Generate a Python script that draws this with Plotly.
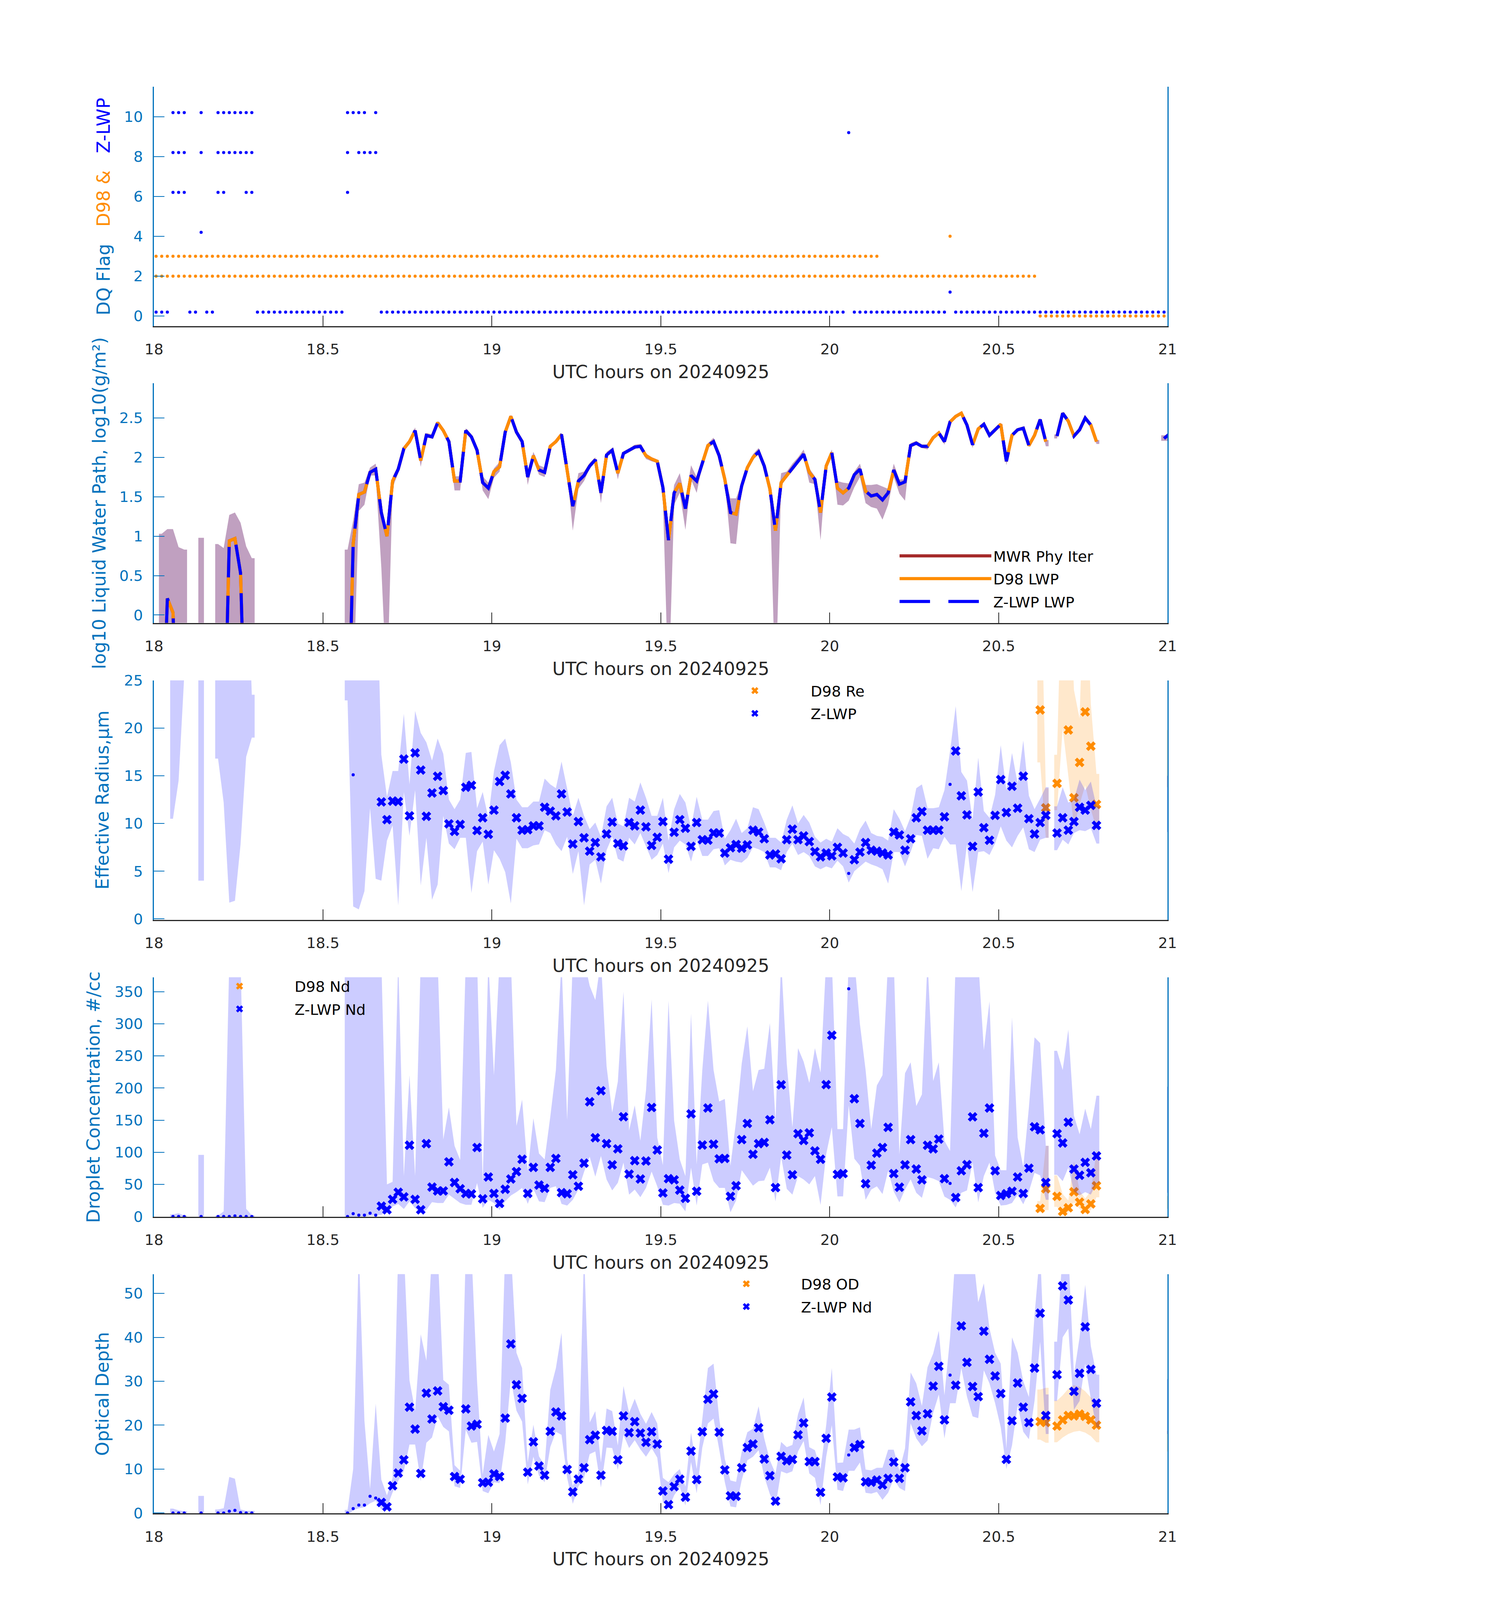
import plotly.graph_objects as go

N = 181            # one-minute samples from 18:00 to 21:00 UTC
OFFSET = 0.37      # sample time offset within each minute (minutes)
t = [18 + (i + OFFSET) / 60 for i in range(N)]


def series(segs):
    a = [None] * N
    for s, vals in segs:
        for k, v in enumerate(vals):
            a[s + k] = v
    return a

# ---------------- DQ flags (runs of minute indices) ----------------
Z_FLAG_RUNS = {
    0: [(0, 2), (6, 7), (9, 10), (18, 33), (40, 122), (124, 140), (142, 180)],
    10: [(3, 5), (8, 8), (11, 17), (34, 37), (39, 39)],
    8: [(3, 5), (8, 8), (11, 17), (34, 34), (36, 39)],
    6: [(3, 5), (11, 12), (16, 17), (34, 34)],
    4: [(8, 8)],
    9: [(123, 123)],
    1: [(141, 141)],
}
D98_FLAG_RUNS = {
    3: [(0, 128)],
    2: [(0, 156)],
    4: [(141, 141)],
    0: [(157, 180)],
}
Z_FLAG_SHIFT = 0.2

# ---------------- log10 LWP ----------------
lwp = series([
    (1, [-2, 0.21, 0.03, -2]),
    (12, [-2, 0.94, 0.97, 0.53, -2]),
    (34, [-2, 0.9, 1.53, 1.56, 1.81, 1.85]),
    (40, [1.30, 1.00, 1.70, 1.85, 2.11, 2.20, 2.34, 1.96, 2.28, 2.26]),
    (50, [2.44, 2.34, 2.20, 1.70, 1.70, 2.34, 2.26, 2.09, 1.68, 1.61]),
    (60, [1.82, 1.88, 2.32, 2.52, 2.32, 2.20, 1.75, 2.02, 1.84, 1.81]),
    (70, [2.14, 2.20, 2.29, 1.83, 1.38, 1.70, 1.77, 1.89, 1.97, 1.55]),
    (80, [2.03, 2.09, 1.80, 2.05, 2.09, 2.13, 2.14, 2.02, 1.98, 1.95]),
    (90, [1.62, 0.95, 1.55, 1.67, 1.35, 1.77, 1.70, 1.94, 2.15, 2.20]),
    (100, [2.02, 1.72, 1.30, 1.28, 1.64, 1.87, 2.00, 2.07, 1.89, 1.60]),
    (110, [1.07, 1.68, 1.77, 1.87, 1.96, 2.04, 1.81, 1.72, 1.30, 1.89]),
    (120, [2.06, 1.61, 1.55, 1.61, 1.78, 1.85, 1.57, 1.51, 1.53, 1.46]),
    (130, [1.55, 1.84, 1.66, 1.69, 2.15, 2.18, 2.14, 2.14, 2.25, 2.31]),
    (140, [2.20, 2.45, 2.52, 2.56, 2.41, 2.16, 2.36, 2.42, 2.28, 2.35]),
    (150, [2.42, 1.95, 2.28, 2.35, 2.37, 2.15, 2.28, 2.48, 2.20]),
    (160, [2.27, 2.56, 2.46, 2.27, 2.35, 2.50, 2.41, 2.20]),
    (179, [2.24, 2.30]),
])
lwp_lo = series([
    (1, [-1, -1, -1, -1, -1]), (8, [-1]), (11, [-1, -1, -1, -1, -1, -1, -1]),
    (34, [-1, -1, 1.32, 1.40, 1.77, 1.77]),
    (40, [0.6, -1, 1.62, 1.80, 2.08, 2.17, 2.30, 1.88, 2.25, 2.24]),
    (50, [2.42, 2.32, 2.18, 1.58, 1.58, 2.32, 2.24, 2.07, 1.58, 1.47]),
    (60, [1.74, 1.82, 2.30, 2.50, 2.30, 2.18, 1.65, 1.98, 1.78, 1.75]),
    (70, [2.12, 2.18, 2.27, 1.80, 1.07, 1.60, 1.70, 1.86, 1.94, 1.42]),
    (80, [2.01, 2.07, 1.72, 2.03, 2.07, 2.11, 2.12, 1.98, 1.95, 1.93]),
    (90, [1.50, -1, 1.40, 1.55, 1.08, 1.72, 1.55, 1.90, 2.12, 2.17]),
    (100, [1.98, 1.68, 0.91, 0.90, 1.60, 1.84, 1.97, 2.04, 1.86, 1.55]),
    (110, [-1, 1.64, 1.74, 1.83, 1.92, 2.00, 1.68, 1.66, 0.95, 1.86]),
    (120, [2.02, 1.40, 1.39, 1.45, 1.62, 1.75, 1.42, 1.37, 1.35, 1.21]),
    (130, [1.40, 1.75, 1.54, 1.45, 2.12, 2.16, 2.12, 2.10, 2.22, 2.29]),
    (140, [2.16, 2.43, 2.50, 2.54, 2.39, 2.12, 2.34, 2.40, 2.25, 2.32]),
    (150, [2.40, 1.90, 2.26, 2.33, 2.35, 2.13, 2.26, 2.46, 2.14]),
    (160, [2.24, 2.54, 2.44, 2.25, 2.33, 2.48, 2.39, 2.17]),
    (179, [2.21, 2.21]),
])
lwp_hi = series([
    (1, [1.03, 1.09, 1.09, 0.86, 0.83]), (8, [0.98]),
    (11, [0.90, 0.85, 1.27, 1.30, 1.17, 0.87, 0.72]),
    (34, [0.83, 1.20, 1.66, 1.68, 1.87, 1.92]),
    (40, [1.40, 1.05, 1.75, 1.90, 2.14, 2.23, 2.38, 2.00, 2.31, 2.29]),
    (50, [2.46, 2.36, 2.22, 1.76, 1.76, 2.37, 2.29, 2.11, 1.76, 1.68]),
    (60, [1.86, 1.94, 2.34, 2.54, 2.34, 2.22, 1.80, 2.07, 1.90, 1.87]),
    (70, [2.16, 2.22, 2.31, 1.86, 1.40, 1.80, 1.82, 1.93, 2.00, 1.60]),
    (80, [2.07, 2.12, 1.83, 2.07, 2.11, 2.16, 2.17, 2.05, 2.00, 1.97]),
    (90, [1.68, 1.10, 1.65, 1.80, 1.45, 1.90, 1.75, 1.98, 2.18, 2.25]),
    (100, [2.05, 1.76, 1.48, 1.48, 1.68, 1.90, 2.04, 2.12, 1.92, 1.64]),
    (110, [1.10, 1.80, 1.82, 1.92, 2.00, 2.10, 1.86, 1.76, 1.40, 1.93]),
    (120, [2.10, 1.70, 1.68, 1.67, 1.82, 1.92, 1.65, 1.65, 1.66, 1.63]),
    (130, [1.60, 1.92, 1.72, 1.72, 2.18, 2.21, 2.16, 2.16, 2.27, 2.33]),
    (140, [2.22, 2.47, 2.54, 2.58, 2.43, 2.18, 2.38, 2.44, 2.30, 2.37]),
    (150, [2.44, 1.98, 2.30, 2.37, 2.39, 2.17, 2.30, 2.50, 2.22]),
    (160, [2.29, 2.58, 2.48, 2.29, 2.37, 2.52, 2.43, 2.22]),
    (179, [2.28, 2.28]),
])

# ---------------- Effective radius (um) ----------------
re_z = series([
    (35, [15.1]),
    (40, [12.26, 10.4, 12.35, 12.3, 16.75, 10.8, 17.4, 15.6, 10.75, 13.2]),
    (50, [14.95, 13.45, 9.96, 9.17, 9.9, 13.8, 14.0, 9.26, 10.6, 8.87]),
    (60, [11.4, 14.4, 15.05, 13.1, 10.6, 9.3, 9.35, 9.75, 9.75, 11.7]),
    (70, [11.3, 10.8, 13.1, 11.2, 7.85, 10.2, 8.5, 7.1, 8.0, 6.5]),
    (80, [8.9, 10.15, 7.9, 7.65, 10.1, 9.75, 11.4, 9.65, 7.7, 8.55]),
    (90, [10.2, 6.26, 9.08, 10.4, 9.5, 7.6, 10.1, 8.3, 8.25, 9.0]),
    (100, [9.0, 6.9, 7.45, 7.8, 7.4, 7.75, 9.3, 9.1, 8.4, 6.7]),
    (110, [6.8, 6.3, 8.3, 9.4, 8.3, 8.7, 8.1, 7.05, 6.5, 6.9]),
    (120, [6.6, 7.5, 6.9, 4.76, 6.2, 7.0, 8.0, 7.2, 7.1, 6.9]),
    (130, [6.7, 9.1, 8.8, 7.2, 8.4, 10.6, 11.25, 9.3, 9.3, 9.3]),
    (140, [10.7, 14.1, 17.6, 12.9, 10.9, 7.6, 13.3, 9.56, 8.24, 10.85]),
    (150, [14.6, 11.15, 13.9, 11.6, 14.96, 10.5, 8.9, 10.1, 10.85]),
    (160, [9.0, 10.6, 9.3, 10.2, 11.7, 11.4, 11.9, 9.8]),
    (180, [12.0]),
])
re_z_lo = series([
    (3, [10.5, 14.5, 25.5]), (8, [4.0]), (11, [16.8, 12.2, 1.7, 1.9, 7.8, 17.0, 19.0]),
    (34, [22.9, 1.3, 1.0, 2.9, 11.6, 4.2]),
    (40, [4.0, 8.2, 9.8, 1.4, 13.3, 8.7, 13.5, 3.5, 8.5, 2.0]),
    (50, [3.6, 10.8, 7.9, 7.3, 8.5, 8.5, 2.7, 7.1, 8.1, 3.6]),
    (60, [7.2, 6.3, 4.9, 1.6, 8.4, 7.4, 7.4, 7.7, 7.8, 9.3]),
    (70, [9.0, 7.8, 7.1, 8.6, 4.7, 7.1, 1.4, 5.7, 6.2, 3.7]),
    (80, [7.2, 8.6, 6.3, 6.0, 8.5, 7.8, 9.0, 7.6, 6.2, 6.7]),
    (90, [7.9, 4.8, 7.5, 8.2, 7.8, 6.0, 8.3, 6.6, 6.6, 7.3]),
    (100, [7.4, 5.6, 6.2, 6.0, 5.9, 6.4, 7.5, 7.3, 7.0, 5.4]),
    (110, [5.4, 5.1, 7.0, 7.9, 6.7, 7.0, 6.6, 5.5, 5.2, 5.5]),
    (120, [5.3, 6.1, 5.5, 3.8, 5.0, 5.5, 6.0, 5.7, 5.5, 5.2]),
    (130, [3.7, 7.0, 7.0, 5.5, 7.0, 8.8, 8.7, 6.3, 7.4, 7.3]),
    (140, [8.6, 7.8, 7.8, 2.9, 7.8, 2.8, 7.0, 7.1, 6.7, 7.9]),
    (150, [9.7, 8.2, 7.5, 8.7, 9.6, 7.3, 7.0, 8.3, 8.5]),
    (160, [7.2, 8.3, 7.8, 9.0, 9.3, 9.2, 9.5, 7.9]),
    (180, [9.1]),
])
re_z_hi = series([
    (3, [40, 40, 40]), (8, [40]), (11, [40, 40, 40, 40, 40, 40, 23.5]),
    (34, [40, 40, 40, 40, 40, 40]),
    (40, [17.2, 12.8, 15.5, 15.5, 21.5, 14.1, 21.8, 19.5, 18.5, 16.6]),
    (50, [18.9, 17.3, 12.5, 11.5, 12.5, 17.4, 17.5, 11.6, 13.3, 10.6]),
    (60, [15.5, 18.2, 18.9, 16.4, 12.5, 11.7, 11.7, 12.3, 12.3, 14.7]),
    (70, [14.1, 13.7, 16.5, 13.6, 10.8, 12.7, 10.8, 9.4, 10.1, 8.6]),
    (80, [11.8, 12.7, 10.0, 9.7, 12.7, 12.3, 14.3, 12.7, 10.8, 10.8]),
    (90, [12.7, 8.2, 11.5, 13.1, 12.2, 9.6, 12.8, 10.4, 10.4, 11.3]),
    (100, [11.4, 8.4, 9.3, 10.5, 9.0, 9.5, 11.7, 11.5, 10.1, 8.5]),
    (110, [8.5, 8.0, 10.4, 11.9, 10.0, 10.9, 10.1, 8.6, 8.0, 8.4]),
    (120, [8.1, 9.5, 8.9, 8.6, 7.9, 9.4, 10.3, 9.0, 8.7, 8.6]),
    (130, [8.2, 11.5, 10.5, 9.2, 10.7, 13.7, 14.1, 11.6, 11.6, 11.7]),
    (140, [13.5, 17.6, 22.3, 15.4, 14.5, 10.4, 16.9, 11.3, 10.6, 13.0]),
    (150, [18.2, 13.5, 17.4, 14.2, 18.7, 12.9, 11.5, 12.6, 13.8]),
    (160, [11.8, 13.8, 12.2, 12.5, 14.6, 13.5, 14.4, 11.8]),
    (180, [15.0]),
])
re_d98 = series([(157, [21.9, 11.64, None, 14.2, None, 19.8, 12.7, 16.4, 21.7, 18.1, 12.0]), (180, [16.6])])
re_d98_lo = series([(157, [16.4, 8.5]), (160, [11.4, 20.0, 15.0, 9.6, 12.0, 14.0, 11.5, 9.4]), (180, [13.8])])
re_d98_hi = series([(157, [40, 13.7]), (160, [17.2, 40, 40, 24.0, 21.0, 40, 22.5, 15.2]), (180, [19.8])])

# ---------------- Droplet concentration (#/cc) ----------------
nd_z = series([
    (3, [0, 0, 0]), (8, [0]), (11, [0, 0, 0, 1.0, 0, 0, 0]),
    (34, [0, 4.5, 2.1, 2.1, 5.2, 2.1]),
    (40, [16.2, 10.5, 26.7, 37.7, 30.6, 111.0, 26.7, 10.5, 113.4, 45.8]),
    (50, [39.8, 39.8, 85.1, 52.9, 43.2, 35.9, 35.1, 107.4, 27.5, 61.5]),
    (60, [35.9, 20.4, 42.4, 58.4, 69.9, 89.1, 35.9, 76.5, 49.0, 44.0]),
    (70, [76.5, 90.4, 37.2, 35.4, 65.0, 47.1, 83.0, 178.6, 122.6, 195.7]),
    (80, [113.4, 80.4, 105.3, 155.3, 66.0, 87.0, 58.4, 86.4, 169.7, 103.5]),
    (90, [36.7, 58.9, 57.1, 41.1, 28.3, 159.8, 39.3, 111.3, 168.9, 112.6]),
    (100, [89.8, 90.4, 31.4, 47.9, 119.7, 144.8, 96.9, 113.4, 115.2, 150.6]),
    (110, [45.0, 205.1, 95.6, 65.0, 128.9, 118.4, 130.2, 102.1, 89.1, 205.3]),
    (120, [282.1, 65.5, 66.8, 354.4, 183.3, 144.8, 51.1, 79.9, 98.7, 107.4]),
    (130, [138.8, 66.8, 45.6, 80.4, 119.7, 73.9, 57.1, 110.8, 105.3, 120.5]),
    (140, [58.9, 51.6, 29.6, 71.2, 80.7, 155.1, 45.0, 129.6, 168.9, 71.2]),
    (150, [32.7, 35.4, 39.3, 61.5, 35.9, 75.2, 139.6, 134.9, 52.9]),
    (160, [128.9, 114.5, 146.7, 73.9, 64.2, 84.3, 68.1, 94.3]),
    (180, [63.6]),
])
nd_z_lo = series([
    (3, [-1, -1, -1]), (8, [-1]), (11, [-1, -1, -1, -1, -1, -1, -1]),
    (34, [-1, -1, 0, 0, 1, 2]),
    (40, [2.6, 7.9, 15.7, 19.6, 11.8, 23.6, 13.1, 5.2, 10.5, 22.3]),
    (50, [21, 21, 34, 27.5, 21, 18.3, 18.3, 52, 13.6, 26]),
    (60, [21, 10, 23.6, 32.7, 38, 44.5, 19.6, 43.2, 23.6, 22.3]),
    (70, [44.5, 47.1, 19.6, 17, 26, 41.9, 69.4, 93, 62, 94.3]),
    (80, [57.6, 40.6, 52.4, 83.8, 34, 41.9, 30.1, 44.5, 70, 47]),
    (90, [18.3, 17, 21, 20, 8, 76, 17, 81, 84, 55]),
    (100, [44.5, 44.5, 6.5, 25, 72, 60, 48, 55, 56, 76]),
    (110, [23.6, 93, 43, 34, 63, 57.6, 50, 63, 18, 97]),
    (120, [139, 31.4, 31.4, 173, 90, 79, 26, 42, 47, 35]),
    (130, [71, 39, 22, 42, 58, 37, 29, 61.5, 59, 55]),
    (140, [31, 26, 14, 37, 40.6, 84, 22, 63, 84, 37]),
    (150, [17, 18, 21, 34, 19, 39, 68, 64, 26]),
    (160, [65, 55, 76, 39, 33, 38, 34, 52]),
    (180, [37]),
])
nd_z_hi = series([
    (3, [3.4, 5.2, 1.5]), (8, [96]), (11, [1.5, 8, 400, 400, 400, 12, 2]),
    (34, [400, 400, 400, 400, 400, 400]),
    (40, [400, 50, 54, 400, 63, 220, 63, 400, 400, 400]),
    (50, [400, 120, 170, 110, 88, 400, 400, 400, 52, 400]),
    (60, [220, 400, 400, 400, 141, 182, 71, 153, 98, 89]),
    (70, [155, 228, 400, 150, 400, 400, 400, 359, 337, 400]),
    (80, [234, 162, 210, 350, 134, 173, 118, 196, 338, 123]),
    (90, [80, 336, 149, 89, 63, 316, 81, 228, 336, 228]),
    (100, [179, 183, 79, 149, 238, 296, 195, 228, 230, 301]),
    (110, [149, 400, 238, 139, 262, 241, 208, 262, 224, 400]),
    (120, [400, 136, 136, 400, 400, 299, 228, 136, 204, 220]),
    (130, [400, 400, 97, 223, 240, 172, 190, 400, 211, 240]),
    (140, [118, 102, 400, 400, 400, 400, 400, 259, 335, 95]),
    (150, [72, 72, 310, 123, 77, 170, 279, 270, 110]),
    (160, [258, 228, 291, 157, 128, 168, 136, 188]),
    (180, [202]),
])
nd_d98 = series([(157, [12.6, 43.2, None, 31.4, 7.9, 13.6, 38.5, 22.3, 11.0, 19.6, 47.9]), (180, [20.2])])
nd_d98_lo = series([(157, [6.5, 10]), (160, [15, 3, 6, 22, 12, 5, 10, 30]), (180, [12])])
nd_d98_hi = series([(157, [24, 110]), (160, [64, 35, 25, 86, 40, 28, 40, 101]), (180, [32])])

# ---------------- Optical depth ----------------
od_z = series([
    (3, [0, 0, 0]), (8, [0]), (11, [0, 0, 0.4, 0.6, 0.1, 0, 0]),
    (34, [0, 1.0, 1.8, 1.8, 3.8, 3.4]),
    (40, [2.4, 1.4, 6.2, 9.1, 12.1, 24.1, 19.1, 9.0, 27.3, 21.4]),
    (50, [27.8, 24.2, 23.4, 8.3, 7.7, 23.7, 19.8, 20.2, 6.9, 7.0]),
    (60, [8.9, 8.3, 21.6, 38.5, 29.2, 26.1, 9.3, 16.2, 10.7, 8.6]),
    (70, [18.6, 23.0, 22.1, 9.9, 4.8, 7.7, 10.3, 16.7, 17.7, 8.6]),
    (80, [18.8, 18.6, 12.1, 22.1, 18.3, 20.8, 18.2, 16.1, 18.5, 15.7]),
    (90, [5.0, 1.9, 6.0, 7.7, 3.6, 14.1, 7.6, 18.5, 25.9, 27.1]),
    (100, [18.4, 9.8, 3.9, 3.8, 10.3, 14.9, 15.7, 19.4, 12.3, 8.5]),
    (110, [2.7, 12.9, 11.9, 12.2, 17.8, 20.5, 11.7, 11.7, 4.7, 17.0]),
    (120, [26.4, 8.2, 8.0, 13.2, 14.9, 15.6, 7.1, 7.0, 7.5, 6.4]),
    (130, [7.9, 11.6, 7.9, 10.3, 25.3, 22.2, 18.7, 22.6, 28.9, 33.4]),
    (140, [21.2, 31.4, 29.1, 42.6, 34.3, 28.8, 26.5, 41.4, 35.0, 31.2]),
    (150, [27.2, 12.2, 21.0, 29.6, 24.1, 20.6, 33.0, 45.5, 22.2]),
    (160, [31.5, 51.7, 48.5, 27.7, 31.8, 42.4, 32.7, 25.0]),
    (180, [23.2]),
])
od_z_lo = series([
    (3, [-1, -1, -1]), (8, [-1]), (11, [-1, -1, -1, -1, -1, -1, -1]),
    (34, [-0.5, 0.6, 1.1, 1.3, 2.2, 2.8]),
    (40, [0.8, 1.3, 4.7, 7.3, 9.6, 15.6, 15.6, 7.2, 16.0, 17.2]),
    (50, [22.0, 19.6, 18.6, 6.1, 5.7, 19.0, 16.0, 16.2, 5.0, 4.5]),
    (60, [7.0, 6.8, 16.0, 30.5, 23.3, 20.8, 6.5, 12.8, 8.5, 7.0]),
    (70, [15.0, 18.5, 17.8, 8.0, 2.1, 6.0, 8.0, 13.4, 14.0, 5.8]),
    (80, [14.9, 14.8, 9.8, 17.8, 14.8, 16.6, 14.5, 12.8, 14.8, 12.6]),
    (90, [2.5, 1.0, 4.0, 6.0, 1.7, 11.6, 4.5, 14.9, 20.4, 21.5]),
    (100, [14.5, 7.0, 1.5, 1.3, 7.5, 12.0, 12.8, 14.3, 8.3, 4.3]),
    (110, [1.5, 9.5, 9.0, 9.5, 14.0, 16.4, 9.0, 8.0, 1.8, 12.8]),
    (120, [20.0, 5.3, 5.0, 9.6, 9.6, 11.5, 4.6, 4.4, 4.8, 3.0]),
    (130, [4.6, 7.8, 5.7, 5.0, 20.4, 17.0, 15.2, 16.5, 22.8, 27.0]),
    (140, [17.0, 25.0, 25.0, 33.0, 26.5, 22.0, 21.6, 32.5, 29.5, 25.0]),
    (150, [19.5, 10.0, 15.4, 24.5, 18.5, 16.8, 25.5, 39.0, 18.0]),
    (160, [25.5, 40.0, 42.0, 23.5, 25.5, 34.0, 26.0, 19.5]),
    (180, [18.0]),
])
od_z_hi = series([
    (3, [1.0, 0.6, 0.4]), (8, [3.9]), (11, [0.8, 1.1, 8.2, 7.8, 0.8, 0.5, 0.5]),
    (34, [0.7, 10, 60, 21, 5.5, 24.9]),
    (40, [7.6, 4.0, 8.0, 60, 60, 30.2, 23.3, 40.7, 34.7, 60]),
    (50, [60, 30.3, 29.2, 10.9, 9.6, 60, 60, 30, 8.8, 17.8]),
    (60, [14.0, 18.0, 60, 60, 36.5, 33.0, 11.5, 20.1, 12.9, 10.9]),
    (70, [28.0, 33.0, 41.0, 12.2, 6.2, 9.3, 60, 20.6, 23.2, 11.5]),
    (80, [23.8, 23.2, 15.4, 28.9, 22.8, 26.0, 22.6, 20.3, 23.0, 20.4]),
    (90, [8.0, 7.0, 8.8, 10.0, 6.0, 18.3, 10.0, 21.4, 33.0, 34.0]),
    (100, [21.6, 12.3, 7.4, 7.1, 13.9, 18.4, 19.2, 24.3, 17.0, 12.0]),
    (110, [9.0, 16.2, 15.0, 15.5, 22.5, 26.3, 15.0, 14.3, 10.0, 20.0]),
    (120, [33.0, 11.4, 11.5, 19.0, 19.0, 19.5, 9.9, 9.7, 10.3, 10.3]),
    (130, [14.4, 14.4, 9.7, 14.7, 32.0, 29.5, 24.4, 33.2, 36.3, 41.5]),
    (140, [26.8, 40.0, 60, 60, 60, 60, 48.0, 52.3, 42.0, 36.5]),
    (150, [34.0, 14.7, 40.0, 36.5, 30.0, 26.4, 45.0, 60, 27.0]),
    (160, [39.0, 60, 60, 31.5, 40.0, 52.0, 38.0, 31.5]),
    (180, [30.5]),
])
od_d98 = series([(157, [20.8, 20.6, None, 19.8, 21.2, 22.2, 22.1, 22.5, 22.0, 21.2, 20.0]), (180, [16.5])])
od_d98_lo = series([(157, [16.7, 16.0]), (160, [16.1, 17.2, 18.0, 18.5, 18.7, 18.3, 17.5, 16.1]), (180, [14.0])])
od_d98_hi = series([(157, [28.1, 28.5]), (160, [25.6, 26.8, 28.3, 29.1, 28.7, 27.7, 26.3, 25.5]), (180, [18.7])])

X_TICKS = [18, 18.5, 19, 19.5, 20, 20.5, 21]
X_TICKTEXT = ["18", "18.5", "19", "19.5", "20", "20.5", "21"]
X_TITLE = "UTC hours on 20240925"

# ---------------- styling ----------------
W, H = 3825, 6000
BLUE = "#0000FF"
ORANGE = "#FF8C00"
AXBLUE = "#0072BD"
DARK = "#262626"
FONT = "DejaVu Sans"
X_DOM = [375 / W, 3003 / W]
PANEL_PX = [(296, 1203), (1420, 2328), (2546, 3453), (3671, 4579), (4796, 5703)]
Y_RANGES = [[-0.5, 11.5], [-0.1, 2.94], [-0.09, 25], [-0.5, 372.4], [-0.1, 54.4]]
Y_TICKS = [[0, 2, 4, 6, 8, 10], [0, 0.5, 1, 1.5, 2, 2.5], [0, 5, 10, 15, 20, 25],
           [0, 50, 100, 150, 200, 250, 300, 350], [0, 10, 20, 30, 40, 50]]
Y_TITLE_X = [244, 233, 241, 218, 241]

ok_z = set()
for a, b in Z_FLAG_RUNS[0]:
    ok_z.update(range(a, b + 1))


def band_xy(lo, hi, pad=0.5 / 60):
    xs, ys = [], []
    i = 0
    while i < N:
        if lo[i] is None or hi[i] is None:
            i += 1
            continue
        j = i
        while j + 1 < N and lo[j + 1] is not None and hi[j + 1] is not None:
            j += 1
        idx = list(range(i, j + 1))
        px = [t[i] - pad] + [t[k] for k in idx] + [t[j] + pad]
        py = [hi[i]] + [hi[k] for k in idx] + [hi[j]]
        px += [t[j] + pad] + [t[k] for k in reversed(idx)] + [t[i] - pad]
        py += [lo[j]] + [lo[k] for k in reversed(idx)] + [lo[i]]
        xs += px + [px[0], None]
        ys += py + [py[0], None]
        i = j + 1
    return xs, ys


fig = go.Figure()


def ax(k):
    return ("x" if k == 1 else f"x{k}"), ("y" if k == 1 else f"y{k}")

# Panel 1: flags
xa, ya = ax(1)
for lvl, runs in D98_FLAG_RUNS.items():
    idx = [i for a, b in runs for i in range(a, b + 1)]
    fig.add_trace(go.Scatter(x=[t[i] for i in idx], y=[lvl] * len(idx), mode="markers",
                             marker=dict(color=ORANGE, size=8), cliponaxis=False,
                             showlegend=False, xaxis=xa, yaxis=ya, hoverinfo="skip"))
for lvl, runs in Z_FLAG_RUNS.items():
    idx = [i for a, b in runs for i in range(a, b + 1)]
    fig.add_trace(go.Scatter(x=[t[i] for i in idx], y=[lvl + Z_FLAG_SHIFT] * len(idx), mode="markers",
                             marker=dict(color=BLUE, size=8), cliponaxis=False,
                             showlegend=False, xaxis=xa, yaxis=ya, hoverinfo="skip"))

# Panel 2: LWP
xa, ya = ax(2)
bx, by = band_xy(lwp_lo, lwp_hi)
fig.add_trace(go.Scatter(x=bx, y=by, fill="toself", fillcolor="rgb(192,160,192)", mode="lines",
                         line=dict(width=0), showlegend=False, xaxis=xa, yaxis=ya, hoverinfo="skip"))
fig.add_trace(go.Scatter(x=t, y=lwp, mode="lines", line=dict(color="#A52A2A", width=8),
                         name="MWR Phy Iter", legend="legend", legendgroup="g1", xaxis=xa, yaxis=ya))
fig.add_trace(go.Scatter(x=t, y=lwp, mode="lines", line=dict(color=ORANGE, width=8),
                         name="D98 LWP", legend="legend", legendgroup="g2", xaxis=xa, yaxis=ya))
fig.add_trace(go.Scatter(x=t, y=lwp, mode="lines", line=dict(color=BLUE, width=8, dash="78px,47px"),
                         name="Z-LWP LWP", legend="legend", legendgroup="g3", xaxis=xa, yaxis=ya))


def marker_panel(k, d98, d98_lo, d98_hi, z, z_lo, z_hi, name_d98, name_z, leg):
    xa, ya = ax(k)
    bx, by = band_xy(d98_lo, d98_hi)
    fig.add_trace(go.Scatter(x=bx, y=by, fill="toself", fillcolor="rgba(255,140,0,0.2)", mode="lines",
                             line=dict(width=0), showlegend=False, xaxis=xa, yaxis=ya, hoverinfo="skip"))
    idx = [i for i in range(N) if d98[i] is not None]
    fig.add_trace(go.Scatter(x=[t[i] for i in idx], y=[d98[i] for i in idx], mode="markers",
                             marker=dict(symbol="x", color=ORANGE, size=22), cliponaxis=False,
                             name=name_d98, legend=leg, legendgroup=f"{leg}a", xaxis=xa, yaxis=ya))
    bx, by = band_xy(z_lo, z_hi)
    fig.add_trace(go.Scatter(x=bx, y=by, fill="toself", fillcolor="rgba(0,0,255,0.2)", mode="lines",
                             line=dict(width=0), showlegend=False, xaxis=xa, yaxis=ya, hoverinfo="skip"))
    idx_dot = [i for i in range(N) if z[i] is not None and i not in ok_z]
    fig.add_trace(go.Scatter(x=[t[i] for i in idx_dot], y=[z[i] for i in idx_dot], mode="markers",
                             marker=dict(color=BLUE, size=8), cliponaxis=False,
                             showlegend=False, xaxis=xa, yaxis=ya))
    idx_x = [i for i in range(N) if z[i] is not None and i in ok_z]
    fig.add_trace(go.Scatter(x=[t[i] for i in idx_x], y=[z[i] for i in idx_x], mode="markers",
                             marker=dict(symbol="x", color=BLUE, size=22), cliponaxis=False,
                             name=name_z, legend=leg, legendgroup=f"{leg}b", xaxis=xa, yaxis=ya))


marker_panel(3, re_d98, re_d98_lo, re_d98_hi, re_z, re_z_lo, re_z_hi, "D98 Re", "Z-LWP", "legend2")
marker_panel(4, nd_d98, nd_d98_lo, nd_d98_hi, nd_z, nd_z_lo, nd_z_hi, "D98 Nd", "Z-LWP Nd", "legend3")
marker_panel(5, od_d98, od_d98_lo, od_d98_hi, od_z, od_z_lo, od_z_hi, "D98 OD", "Z-LWP Nd", "legend4")

layout = dict(width=W, height=H, margin=dict(l=0, r=0, t=0, b=0),
              paper_bgcolor="white", plot_bgcolor="white",
              font=dict(family=FONT, size=38, color=DARK))
annotations = []
for k in range(1, 6):
    top, bot = PANEL_PX[k - 1]
    dom = [1 - bot / H, 1 - top / H]
    xs = "xaxis" if k == 1 else f"xaxis{k}"
    ys = "yaxis" if k == 1 else f"yaxis{k}"
    xa, ya = ax(k)
    layout[xs] = dict(domain=X_DOM, range=[18, 21], anchor=ya, tickvals=X_TICKS, ticktext=X_TICKTEXT,
                      ticks="inside", ticklen=27, tickwidth=2, tickcolor=DARK, showline=True,
                      linecolor=DARK, linewidth=2.5, showgrid=False, zeroline=False,
                      tickfont=dict(size=38, color=DARK, family=FONT), ticklabelstandoff=24)
    layout[ys] = dict(domain=dom, range=Y_RANGES[k - 1], anchor=xa, tickvals=Y_TICKS[k - 1],
                      ticks="inside", ticklen=27, tickwidth=2, tickcolor=AXBLUE, showline=True,
                      linecolor=AXBLUE, linewidth=2.5, mirror=True, showgrid=False, zeroline=False,
                      tickfont=dict(size=38, color=AXBLUE, family=FONT), ticklabelstandoff=18)
    annotations.append(dict(text=X_TITLE, x=(X_DOM[0] + X_DOM[1]) / 2, y=dom[0], yshift=-117,
                            xref="paper", yref="paper", showarrow=False, xanchor="center", yanchor="middle",
                            font=dict(size=46, color=DARK, family=FONT)))

Y_TITLES = [
    '<span style="color:#0072BD">DQ Flag\u00a0\u00a0\u00a0</span><span style="color:#FF8C00">D98 &amp;\u00a0\u00a0\u00a0</span><span style="color:#0000FF">Z-LWP</span>',
    "log10 Liquid Water Path, log10(g/m\u00b2)",
    "Effective Radius,\u03bcm",
    "Droplet Concentration, #/cc",
    "Optical Depth",
]
for k in range(1, 6):
    top, bot = PANEL_PX[k - 1]
    annotations.append(dict(text=Y_TITLES[k - 1], x=Y_TITLE_X[k - 1] / W, y=1 - (top + bot) / 2 / H,
                            xref="paper", yref="paper", showarrow=False, textangle=-90,
                            xanchor="center", yanchor="middle",
                            font=dict(size=46, color=AXBLUE, family=FONT)))
layout["annotations"] = annotations

leg_common = dict(xanchor="left", yanchor="middle", bgcolor="rgba(0,0,0,0)", borderwidth=0,
                  font=dict(size=38, color="black", family=FONT), tracegroupgap=6)
layout["legend"] = dict(x=2303 / W, y=1 - 2161 / H, itemwidth=235, **leg_common)
layout["legend2"] = dict(x=1788 / W, y=1 - 2628 / H, itemwidth=276, **leg_common)
layout["legend3"] = dict(x=454 / W, y=1 - 3748 / H, itemwidth=272, **leg_common)
layout["legend4"] = dict(x=1769 / W, y=1 - 4876 / H, itemwidth=270, **leg_common)

fig.update_layout(**layout)

# Fit the figure into the visible window if the browser viewport is shorter than the figure.
POST = """
(function(){
  var gd = document.getElementById('{plot_id}');
  document.body.style.margin = '0';
  document.documentElement.style.overflow = 'hidden';
  var h = window.innerHeight, w = window.innerWidth;
  var upd = {};
  if (h > 500 && h < %d) upd.height = h;
  if (w > 500 && w < %d) upd.width = w;
  if (Object.keys(upd).length) { Plotly.relayout(gd, upd); }
})();
""" % (H, W)
fig.write_html("out.html", post_script=POST, config={"displayModeBar": False})
